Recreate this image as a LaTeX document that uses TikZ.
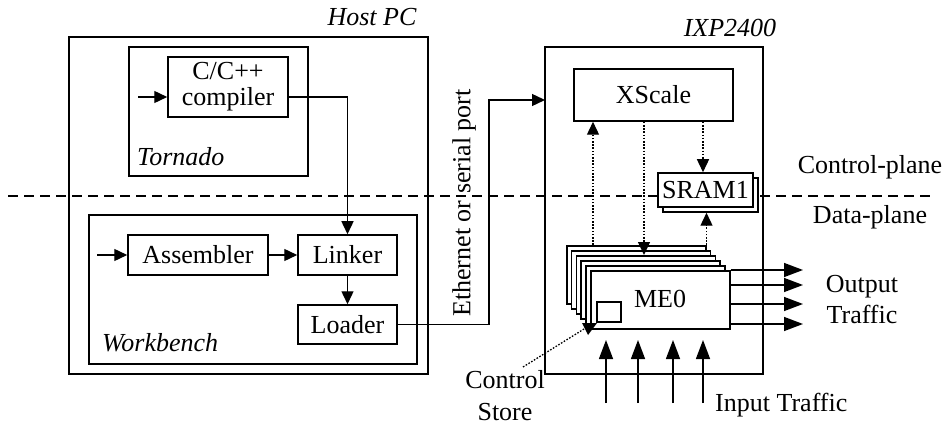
\documentclass[tikz,border=0pt]{standalone}
\usepackage{fontspec}
\setmainfont{Liberation Serif}
\usetikzlibrary{arrows.meta,calc}
\tikzset{
  box/.style={draw, line width=1.5pt, inner sep=0pt},
  wbox/.style={box, fill=white},
  lbl/.style={inner sep=0pt},
  arr/.style={line width=1.4pt, -{Triangle[length=13pt,width=12pt]}},
  bigarr/.style={line width=1.4pt, -{Triangle[length=19pt,width=14pt]}},
  dotarr/.style={line width=1.3pt, dash pattern=on 1.6pt off 1.6pt, -{Triangle[length=13pt,width=12pt]}},
  dotline/.style={line width=1.3pt, dash pattern=on 1.6pt off 1.6pt},
  plane/.style={line width=1.3pt, dash pattern=on 10pt off 6pt}
}
\begin{document}
\begin{tikzpicture}[x=1pt,y=-1pt,font=\fontsize{26}{28}\selectfont]
\useasboundingbox (0,0) rectangle (946,425);
% control/data plane separator
\coordinate (dl) at (8,196);
\coordinate (dr) at (934,196);
\draw[plane] (dl) -- (dr);
% Host PC
\node[box, minimum width=359, minimum height=337] (host) at (248.5,205.5) {};
\node[lbl, font=\fontsize{26}{28}\selectfont\itshape] (hostlbl) at (372,17) {Host PC};
\node[box, minimum width=179, minimum height=129] (tornado) at (218.5,111.5) {};
\node[lbl, anchor=west, font=\fontsize{26}{28}\selectfont\itshape] (tornadolbl) at (137,157) {Tornado};
\node[box, minimum width=120, minimum height=60, align=center] (compiler) at (228,87) {C/C++\\[-2pt]compiler};
\node[box, minimum width=328, minimum height=149] (wb) at (253,289.5) {};
\node[lbl, anchor=west, font=\fontsize{26}{28}\selectfont\itshape] (wblbl) at (102,343) {Workbench};
\node[box, minimum width=140, minimum height=40] (asm) at (198,255) {Assembler};
\node[box, minimum width=99, minimum height=40] (linker) at (347.5,255) {Linker};
\node[box, minimum width=99, minimum height=39] (loader) at (347.5,324.5) {Loader};
\coordinate (cin) at (138,97);
\coordinate (ain) at (97,255);
\draw[arr] (cin) -- (cin -| compiler.west);
\draw[arr] ([yshift=-10pt]compiler.east) -| (linker.north);
\draw[arr] (ain) -- (asm.west);
\draw[arr] (asm.east) -- (linker.west);
\draw[arr] (linker.south) -- (loader.north);
% IXP2400
\node[box, minimum width=218, minimum height=327] (ixp) at (654,210.5) {};
\node[lbl, font=\fontsize{26}{28}\selectfont\itshape] (ixplbl) at (730,28) {IXP2400};
\node[box, minimum width=159, minimum height=52] (xscale) at (653.5,95) {XScale};
\node[wbox, minimum width=95, minimum height=34] (sramb) at (710.5,195) {};
\node[wbox, minimum width=95, minimum height=34] (sram) at (705.5,190) {SRAM1};
% Ethernet link
\coordinate (ethin) at (545,100);
\draw[arr] (loader.east) -| (489,100) -- (ethin);
\node[lbl, rotate=90] (eth) at (464,203) {Ethernet or serial port};
% ME stack
\foreach \k in {0,...,4}{
  \node[wbox, anchor=north west, minimum width=139, minimum height=58] (me\k) at ({566+4.8*\k},{245+5*\k}) {};
}
\node[wbox, anchor=north west, minimum width=139, minimum height=58] (mef) at (590,270) {};
\node[lbl] (melbl) at (660,299) {ME0};
\node[box, minimum width=24, minimum height=20] (cstore) at (609,312) {};
% dotted control connections
\draw[dotarr] ([xshift=27pt]me0.north west) -- ([xshift=27pt]me0.north west |- xscale.south);
\draw[dotarr] (xscale.south -| 644,0) -- (me2.north -| 644,0);
\draw[dotarr] (xscale.south -| 703,0) -- (sram.north -| 703,0);
\draw[dotarr] (me0.north east) -- (me0.north east |- sramb.south);
% output traffic
\foreach \y [count=\i] in {270,285,304,324}{
  \coordinate (o\i) at (803,\y);
  \draw[bigarr] (mef.east |- o\i) -- (o\i);
}
\node[lbl, align=center, font=\fontsize{26}{31}\selectfont] (outlbl) at (862,300) {Output\\Traffic};
% input traffic
\foreach \x [count=\i] in {606,638,673,703}{
  \coordinate (i\i) at (\x,403);
  \draw[bigarr] (i\i) -- (\x,340);
}
\node[lbl, anchor=west] (inlbl) at (715,405) {Input Traffic};
% control store label
\node[lbl, align=center, font=\fontsize{26}{32}\selectfont] (cslbl) at (505,396) {Control\\Store};
\coordinate (csa) at (523,367);
\coordinate (csb) at (584,329);
\draw[dotline] (csa) -- (csb);
\fill (582,323) -- (597,323) -- (588,335) -- cycle;
% plane labels
\node[lbl] (cp) at (870,167) {Control-plane};
\node[lbl] (dp) at (870,217) {Data-plane};
\end{tikzpicture}
\end{document}
